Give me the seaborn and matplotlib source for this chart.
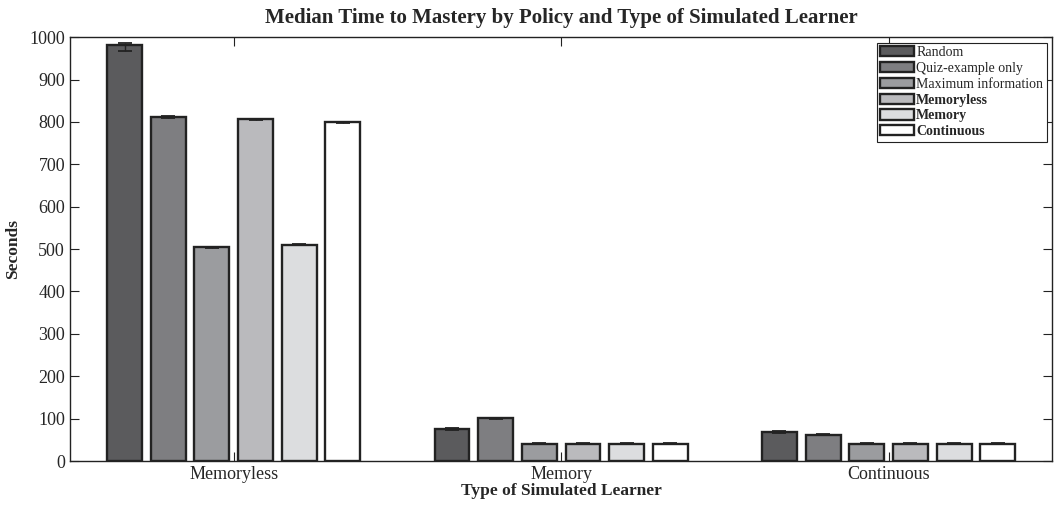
import matplotlib
matplotlib.use("Agg")
import matplotlib.pyplot as plt
import numpy as np
import pandas as pd
import seaborn as sns

# Learner types on the x axis, policies as hue
learners = ["Memoryless", "Memory", "Continuous"]
policies = ["Random", "Quiz-example only", "Maximum information",
            "Memoryless", "Memory", "Continuous"]

# Median seconds, one list per policy (values per learner type)
random_sec = [982, 76, 68]
quiz_sec = [812, 101, 62]
maxinfo_sec = [504, 41, 41]
memoryless_sec = [806, 41, 41]
memory_sec = [510, 41, 41]
continuous_sec = [799, 41, 41]

# Error bar extents (below, above)
err_low = [[14, 2, 3], [2, 1, 1], [1, 1, 1], [2, 1, 1], [1, 1, 1], [1, 1, 1]]
err_high = [[5, 2, 3], [2, 1, 1], [1, 1, 1], [2, 1, 1], [1, 1, 1], [1, 1, 1]]

colors = ["#5b5b5d", "#7d7e81", "#9b9c9f", "#b9babd", "#dcdddf", "#ffffff"]

all_sec = [random_sec, quiz_sec, maxinfo_sec, memoryless_sec, memory_sec, continuous_sec]
df = pd.DataFrame({
    "learner": learners * len(policies),
    "policy": np.repeat(policies, len(learners)),
    "seconds": np.concatenate(all_sec),
})

sns.set_style("ticks")
plt.rcParams["font.family"] = ["Liberation Serif", "DejaVu Serif"]

fig = plt.figure(figsize=(10.54, 5.07), dpi=100)
ax = fig.add_axes([0.0664, 0.0907, 0.932, 0.836])

sns.barplot(data=df, x="learner", y="seconds", hue="policy", order=learners,
            hue_order=policies, palette=colors, edgecolor="#222222",
            linewidth=1.7, gap=0.2, errorbar=None, legend=False, ax=ax)

# error bars on top of each bar
for cont, vals, lo, hi in zip(ax.containers, all_sec, err_low, err_high):
    xs = [p.get_x() + p.get_width() / 2 for p in cont.patches]
    ax.errorbar(xs, vals, yerr=[lo, hi], fmt="none", ecolor="#222222",
                elinewidth=1.0, capsize=5, capthick=1.3, zorder=5)

ax.set_xlim(-0.5, 2.5)
ax.set_ylim(0, 1000)
ax.set_yticks(range(0, 1001, 100))
ax.tick_params(direction="in", top=True, right=True, length=6.5,
               width=0.8, labelsize=13, color="#222222")
for s in ax.spines.values():
    s.set_visible(True)
    s.set_linewidth(1.0)
    s.set_color("#222222")

ax.set_title("Median Time to Mastery by Policy and Type of Simulated Learner",
             fontsize=15, fontweight="bold", pad=10)
ax.set_xlabel("Type of Simulated Learner", fontsize=12.5, fontweight="bold", labelpad=0)
ax.set_ylabel("Seconds", fontsize=12.5, fontweight="bold", labelpad=6)

leg = ax.legend(ax.containers, policies, loc="upper right", fontsize=10,
                frameon=True, fancybox=False, framealpha=1, edgecolor="#222222",
                borderaxespad=0.4, labelspacing=0.2, handlelength=2.4,
                handleheight=0.75, handletextpad=0.2, borderpad=0.25)
leg.get_frame().set_linewidth(0.8)
for t in leg.get_texts()[3:]:
    t.set_fontweight("bold")

fig.savefig("out.png", dpi=100)
